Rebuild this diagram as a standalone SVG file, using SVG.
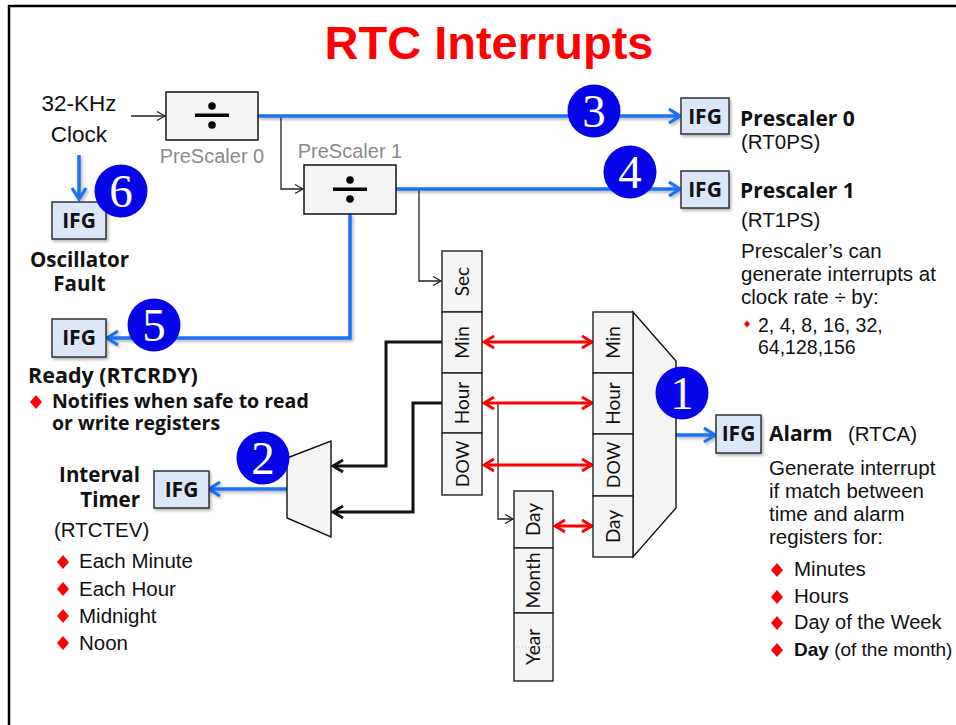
<svg xmlns="http://www.w3.org/2000/svg" width="956" height="725" viewBox="0 0 956 725">
<style>
.t{font-family:"Liberation Sans",Arial,sans-serif;font-size:20.5px;fill:#111}
.g{font-family:"Liberation Sans",Arial,sans-serif;font-size:20px;fill:#8a8a8a}
.b{font-family:"Open Sans","Noto Sans",sans-serif;font-weight:700;fill:#111}
.r{font-family:Lato,"Open Sans",sans-serif;font-size:19px;fill:#111}
.ifg{fill:#dbe6f8;stroke:#333;stroke-width:1.5}
.ifgt{font-family:"Open Sans","Noto Sans",sans-serif;font-weight:700;font-size:21px;fill:#111;text-anchor:middle}
.cell{fill:#f5f5f5;stroke:#222;stroke-width:1.4}
.blue{fill:none;stroke:#1a72f5;stroke-width:3.5}
.red{fill:none;stroke:#f00;stroke-width:3}
.thick{fill:none;stroke:#111;stroke-width:3}
.thin{fill:none;stroke:#222;stroke-width:1.3}
.num{fill:#0505e8}
.numt{font-family:"Liberation Serif","Times New Roman",serif;font-size:47px;fill:#fff;text-anchor:middle}
.dia{fill:#f00}
</style>
<defs>
<filter id="sh" x="-20%" y="-20%" width="140%" height="160%"><feDropShadow dx="1.5" dy="2" stdDeviation="1.5" flood-color="#000" flood-opacity="0.3"/></filter>
<marker id="ab" viewBox="0 0 18 18" refX="15" refY="9" markerWidth="18" markerHeight="18" markerUnits="userSpaceOnUse" orient="auto"><path d="M4,2 L15,9 L4,16" fill="none" stroke="#1a72f5" stroke-width="3.2"/></marker>
<marker id="ar" viewBox="0 0 16 16" refX="13" refY="8" markerWidth="16" markerHeight="16" markerUnits="userSpaceOnUse" orient="auto-start-reverse"><path d="M3,2 L13,8 L3,14" fill="none" stroke="#f00" stroke-width="2.8"/></marker>
<marker id="ak" viewBox="0 0 16 16" refX="13" refY="8" markerWidth="16" markerHeight="16" markerUnits="userSpaceOnUse" orient="auto"><path d="M3,2 L13,8 L3,14" fill="none" stroke="#111" stroke-width="2.8"/></marker>
<marker id="at" viewBox="0 0 12 12" refX="10" refY="6" markerWidth="12" markerHeight="12" markerUnits="userSpaceOnUse" orient="auto"><path d="M2,1.5 L10,6 L2,10.5" fill="none" stroke="#222" stroke-width="1.3"/></marker>
</defs>
<rect x="0" y="0" width="956" height="725" fill="#fff"/>
<rect x="9" y="6" width="960" height="740" fill="none" stroke="#000" stroke-width="2.5"/>
<text x="489" y="59" text-anchor="middle" style="font-family:'Liberation Sans',Arial,sans-serif;font-weight:700;font-size:47px;fill:#f00">RTC Interrupts</text>

<g id="connectors">
<path class="thin" d="M131,116 H165" marker-end="url(#at)"/>
<path class="thin" d="M281,116 V189 H303" marker-end="url(#at)"/>
<path class="thin" d="M419,189 V281 H441" marker-end="url(#at)"/>
<path class="thin" d="M498,403 V519 H513" marker-end="url(#at)"/>
<g filter="url(#sh)">
<path class="blue" d="M258,116 H680" marker-end="url(#ab)"/>
<path class="blue" d="M396,189 H680" marker-end="url(#ab)"/>
<path class="blue" d="M350,214 V338 H107" marker-end="url(#ab)"/>
<path class="blue" d="M79,155 V199" marker-end="url(#ab)"/>
<path class="blue" d="M287,489 H209" marker-end="url(#ab)"/>
<path class="blue" d="M676,435 H715" marker-end="url(#ab)"/>
</g>
<path class="thick" d="M442,342 H386 V466 H333" marker-end="url(#ak)"/>
<path class="thick" d="M442,403 H413 V512 H333" marker-end="url(#ak)"/>
<path class="red" d="M484,342 H592" marker-start="url(#ar)" marker-end="url(#ar)"/>
<path class="red" d="M484,403 H592" marker-start="url(#ar)" marker-end="url(#ar)"/>
<path class="red" d="M484,465 H592" marker-start="url(#ar)" marker-end="url(#ar)"/>
<path class="red" d="M555,526 H592" marker-start="url(#ar)" marker-end="url(#ar)"/>
</g>

<g id="clock">
<text class="t" x="79" y="111" text-anchor="middle" style="font-size:22.5px">32-KHz</text>
<text class="t" x="79" y="142" text-anchor="middle" style="font-size:22.5px">Clock</text>
</g>

<g id="prescaler0">
<rect x="166" y="92" width="92" height="48" fill="#f4f4f4" stroke="#111" stroke-width="1.5"/>
<rect x="195" y="113.5" width="34" height="3.5" fill="#000"/>
<circle cx="212" cy="106" r="3.8" fill="#000"/>
<circle cx="212" cy="125" r="3.8" fill="#000"/>
<text class="g" x="212" y="163" text-anchor="middle">PreScaler 0</text>
</g>

<g id="prescaler1">
<rect x="304" y="165" width="92" height="49" fill="#f4f4f4" stroke="#111" stroke-width="1.5"/>
<rect x="333" y="187.5" width="34" height="3.5" fill="#000"/>
<circle cx="350" cy="180" r="3.8" fill="#000"/>
<circle cx="350" cy="199" r="3.8" fill="#000"/>
<text class="g" x="350" y="158" text-anchor="middle">PreScaler 1</text>
</g>

<g id="ifg-rt0ps">
<rect class="ifg" x="681" y="98" width="48" height="36" filter="url(#sh)"/>
<text class="ifgt" x="705" y="124">IFG</text>
<text class="b" x="740" y="126" style="font-size:21px">Prescaler 0</text>
<text class="t" x="741" y="149">(RT0PS)</text>
</g>

<g id="ifg-rt1ps">
<rect class="ifg" x="681" y="171" width="48" height="37" filter="url(#sh)"/>
<text class="ifgt" x="705" y="197">IFG</text>
<text class="b" x="740" y="198" style="font-size:21px">Prescaler 1</text>
<text class="t" x="741" y="227">(RT1PS)</text>
<text class="t" x="741" y="258">Prescaler’s can</text>
<text class="t" x="741" y="281">generate interrupts at</text>
<text class="t" x="741" y="304">clock rate ÷ by:</text>
<path class="dia" d="M747,320.5 L750,324 L747,327.5 L744,324 Z"/>
<text class="t" x="758" y="332" style="font-size:19.5px">2, 4, 8, 16, 32,</text>
<text class="t" x="758" y="354" style="font-size:19.5px">64,128,156</text>
</g>

<g id="ifg-oscfault">
<rect class="ifg" x="52" y="202" width="54" height="37" filter="url(#sh)"/>
<text class="ifgt" x="79" y="228">IFG</text>
<text class="b" x="79.5" y="267" text-anchor="middle" style="font-size:20.5px">Oscillator</text>
<text class="b" x="79.5" y="291" text-anchor="middle" style="font-size:20.5px">Fault</text>
</g>

<g id="ifg-ready">
<rect class="ifg" x="52" y="319" width="54" height="38" filter="url(#sh)"/>
<text class="ifgt" x="79" y="345">IFG</text>
<text class="b" x="28" y="383" style="font-size:21.5px">Ready (RTCRDY)</text>
<path class="dia" d="M36,395 L42,402 L36,409 L30,402 Z"/>
<text class="b" x="52" y="408" style="font-size:19.5px">Notifies when safe to read</text>
<text class="b" x="52" y="430" style="font-size:19.5px">or write registers</text>
</g>

<g id="interval-timer">
<rect class="ifg" x="154" y="471" width="55" height="37" filter="url(#sh)"/>
<text class="ifgt" x="181.5" y="497">IFG</text>
<text class="b" x="140" y="482" text-anchor="end" style="font-size:20.5px">Interval</text>
<text class="b" x="140" y="507" text-anchor="end" style="font-size:20.5px">Timer</text>
<text class="t" x="54" y="537">(RTCTEV)</text>
<path class="dia" d="M63,555 L69,562 L63,569 L57,562 Z"/>
<text class="t" x="79" y="568">Each Minute</text>
<path class="dia" d="M63,582 L69,589 L63,596 L57,589 Z"/>
<text class="t" x="79" y="596">Each Hour</text>
<path class="dia" d="M63,609 L69,616 L63,623 L57,616 Z"/>
<text class="t" x="79" y="623">Midnight</text>
<path class="dia" d="M63,636 L69,643 L63,650 L57,643 Z"/>
<text class="t" x="79" y="650">Noon</text>
</g>

<g id="interval-mux">
<polygon points="287,458 331,441 331,537 287,518" fill="#f5f5f5" stroke="#111" stroke-width="1.4"/>
</g>

<g id="time-registers">
<rect class="cell" x="442" y="251" width="40" height="61"/>
<rect class="cell" x="442" y="312" width="40" height="61"/>
<rect class="cell" x="442" y="373" width="40" height="60"/>
<rect class="cell" x="442" y="433" width="40" height="62"/>
<text class="r" transform="translate(469,281.5) rotate(-90)" text-anchor="middle">Sec</text>
<text class="r" transform="translate(469,342.5) rotate(-90)" text-anchor="middle">Min</text>
<text class="r" transform="translate(469,403) rotate(-90)" text-anchor="middle">Hour</text>
<text class="r" transform="translate(469,464) rotate(-90)" text-anchor="middle" style="font-size:18px">DOW</text>
</g>

<g id="date-registers">
<rect class="cell" x="514" y="491" width="39" height="57"/>
<rect class="cell" x="514" y="548" width="39" height="65"/>
<rect class="cell" x="514" y="613" width="39" height="68"/>
<line x1="516" y1="647" x2="551" y2="647" stroke="#bbb" stroke-width="1" stroke-dasharray="1,2"/>
<text class="r" transform="translate(540,519.5) rotate(-90)" text-anchor="middle">Day</text>
<text class="r" transform="translate(540,580.5) rotate(-90)" text-anchor="middle">Month</text>
<text class="r" transform="translate(540,647) rotate(-90)" text-anchor="middle">Year</text>
</g>

<g id="alarm-registers">
<polygon points="633,312 676,361 676,508 633,557" fill="#f5f5f5" stroke="#111" stroke-width="1.4"/>
<rect class="cell" x="593" y="312" width="40" height="61"/>
<rect class="cell" x="593" y="373" width="40" height="61"/>
<rect class="cell" x="593" y="434" width="40" height="62"/>
<rect class="cell" x="593" y="496" width="40" height="61"/>
<text class="r" transform="translate(620,342.5) rotate(-90)" text-anchor="middle">Min</text>
<text class="r" transform="translate(620,403.5) rotate(-90)" text-anchor="middle">Hour</text>
<text class="r" transform="translate(620,465) rotate(-90)" text-anchor="middle" style="font-size:18px">DOW</text>
<text class="r" transform="translate(620,526.5) rotate(-90)" text-anchor="middle">Day</text>
</g>

<g id="ifg-alarm">
<rect class="ifg" x="716" y="415" width="45" height="38" filter="url(#sh)"/>
<text class="ifgt" x="738.5" y="441">IFG</text>
<text class="b" x="769" y="441" style="font-size:21px">Alarm</text>
<text class="t" x="848" y="441">(RTCA)</text>
<text class="t" x="769" y="475">Generate interrupt</text>
<text class="t" x="769" y="498">if match between</text>
<text class="t" x="769" y="521">time and alarm</text>
<text class="t" x="769" y="544">registers for:</text>
<path class="dia" d="M777,563 L783,570 L777,577 L771,570 Z"/>
<text class="t" x="794" y="576">Minutes</text>
<path class="dia" d="M777,590 L783,597 L777,604 L771,597 Z"/>
<text class="t" x="794" y="603">Hours</text>
<path class="dia" d="M777,616 L783,623 L777,630 L771,623 Z"/>
<text class="t" x="794" y="629" style="font-size:20px">Day of the Week</text>
<path class="dia" d="M777,643 L783,650 L777,657 L771,650 Z"/>
<text class="t" x="794" y="656" style="font-size:19px"><tspan style="font-weight:700">Day</tspan> (of the month)</text>
</g>

<g id="badges">
<g id="badge1"><circle class="num" cx="682" cy="393" r="26.5"/><text class="numt" x="682" y="409">1</text></g>
<g id="badge2"><circle class="num" cx="263" cy="458" r="26.5"/><text class="numt" x="263" y="474">2</text></g>
<g id="badge3"><circle class="num" cx="594" cy="111" r="26.5"/><text class="numt" x="594" y="127">3</text></g>
<g id="badge4"><circle class="num" cx="630" cy="172" r="26.5"/><text class="numt" x="630" y="188">4</text></g>
<g id="badge5"><circle class="num" cx="154" cy="325" r="26.5"/><text class="numt" x="154" y="341">5</text></g>
<g id="badge6"><circle class="num" cx="121" cy="191" r="26.5"/><text class="numt" x="121" y="207">6</text></g>
</g>
</svg>
